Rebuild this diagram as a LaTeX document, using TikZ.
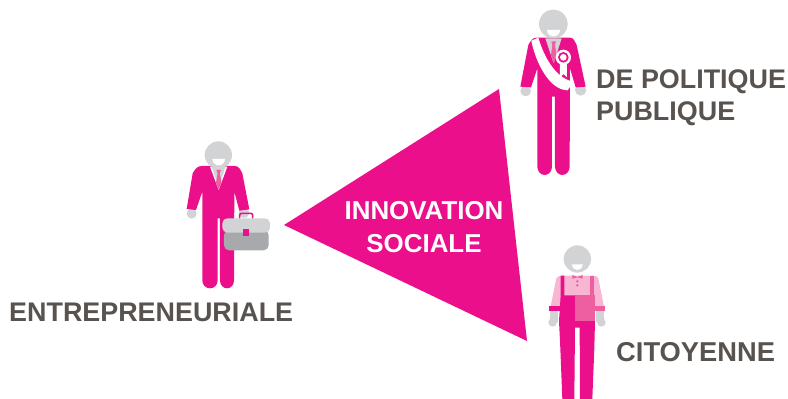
\documentclass[tikz,border=0pt]{standalone}
\usepackage{fontspec}
\setmainfont{Liberation Sans}
\definecolor{mag}{HTML}{EC0F8C}
\definecolor{skin}{HTML}{D1D3D4}
\definecolor{txt}{HTML}{58534F}
\definecolor{lpink}{HTML}{F9B6D3}
\definecolor{mpink}{HTML}{EE5FA2}
\definecolor{dgrey}{HTML}{A7A9AC}
\tikzset{
  lab/.style={text=txt,font=\bfseries\fontsize{26.9}{32}\selectfont,inner sep=0pt,align=left},
  body/.style={fill=mag,draw=none},
  skinpart/.style={fill=skin,draw=none}
}
\begin{document}
\begin{tikzpicture}[x=1pt,y=-1pt]
\useasboundingbox (0,0) rectangle (788,399);
% triangle
\fill[mag] (284,225) -- (499,89) -- (527,341) -- cycle;
\node[text=white,font=\bfseries\fontsize{25.9}{33}\selectfont,align=center,inner sep=0pt] (centre) at (424,227.5) {INNOVATION\\SOCIALE};
% labels
\node[lab,anchor=west] (ent) at (9,312) {ENTREPRENEURIALE};
\node[lab,anchor=west] (pol) at (596,98) {DE POLITIQUE\\PUBLIQUE};
\node[lab,anchor=west,font=\bfseries\fontsize{27.3}{32}\selectfont] (cit) at (616,352) {CITOYENNE};
% entrepreneur
\begin{scope}[shift={(170,130)},x=0.3333pt,y=-0.3333pt]
\fill[skinpart] (65,251) circle (15);
\fill[skinpart] (222,248) circle (16);
\fill[body] (95,108) -- (195,108) to[out=0,in=120] (217,130) -- (238,238) -- (208,242) -- (193,185) -- (192,452)
  arc[start angle=0,end angle=180,x radius=21,y radius=23] -- (150,265) -- (143,265) -- (143,452)
  arc[start angle=0,end angle=180,x radius=23,y radius=23] -- (97,185) -- (78,240) -- (50,237) -- (68,130) to[out=60,in=180] (95,108) -- cycle;
\fill[white] (120,110) -- (172,110) -- (146,180) -- cycle;
\fill[skinpart] (125,110) -- (167,110) -- (146,170) -- cycle;
\fill[mpink] (139,120) -- (153,120) -- (149,130) -- (155,158) -- (146,178) -- (138,158) -- (143,130) -- cycle;
\fill[skinpart] (145,75) circle (41);
\fill[white] (127,87) -- (165,87) arc[start angle=0,end angle=180,radius=19] -- cycle;
\draw[mag,line width=1.6pt,rounded corners=2pt] (209,266) -- (209,250) -- (248,250) -- (248,266);
\fill[dgrey,rounded corners=5pt] (162,300) rectangle (296,361);
\fill[skin,rounded corners=5pt] (157,265) rectangle (300,308);
\fill[mag] (219,298) rectangle (238,318);
\end{scope}
% politician
\begin{scope}[shift={(505,0)},x=0.3333pt,y=-0.3333pt]
\fill[skinpart] (62,273) circle (16);
\fill[skinpart] (227,270) circle (17);
\fill[body] (95,113) -- (195,113) to[out=0,in=120] (215,135) -- (242,260) -- (212,262) -- (195,205) -- (194,500)
  arc[start angle=0,end angle=180,x radius=22,y radius=25] -- (150,290) -- (141,290) -- (141,500)
  arc[start angle=0,end angle=180,x radius=22,y radius=25] -- (97,205) -- (78,262) -- (46,260) -- (70,135) to[out=60,in=180] (95,113) -- cycle;
\fill[skinpart] (121,115) -- (170,115) -- (146,190) -- cycle;
\fill[mpink] (139,124) -- (153,124) -- (150,135) -- (155,165) -- (146,190) -- (138,165) -- (142,135) -- cycle;
\fill[white] (79,122) -- (100,113) .. controls (115,165) and (150,235) .. (205,245) -- (188,271) .. controls (130,270) and (90,180) .. (79,122) -- cycle;
\fill[white] (165,190) -- (186,190) -- (186,232) -- (176,222) -- (165,232) -- cycle;
\fill[white] (175,172) circle (23);
\fill[mag] (175,172) circle (16);
\fill[white] (175,172) circle (10);
\fill[skinpart] (145,72) circle (43);
\fill[white] (126,90) -- (165,90) arc[start angle=0,end angle=180,radius=19.5] -- cycle;
\end{scope}
% citizen
\begin{scope}[shift={(535,235)},x=0.3333pt,y=-0.3333pt]
\fill[skinpart] (53,262) circle (13);
\fill[skinpart] (199,262) circle (13);
\fill[skinpart] (45,225) rectangle (70,262);
\fill[skinpart] (182,225) rectangle (207,262);
\fill[lpink] (80,122) -- (176,122) to[out=0,in=120] (190,130) -- (207,214) -- (176,214) -- (176,258) -- (76,258) -- (76,214) -- (47,214) -- (64,130) to[out=60,in=180] (80,122) -- cycle;
\fill[mag] (42,213) rectangle (77,229);
\fill[mpink] (176,213) rectangle (210,229);
\fill[mag] (77,122) -- (88,122) -- (88,181) -- (120,181) -- (120,258) -- (180,258) -- (178,340) -- (172,492) -- (135,492) -- (134,278) -- (120,278) -- (118,492) -- (82,492) -- (76,340) -- (72,258) -- (77,181) -- cycle;
\fill[mpink] (120,181) rectangle (180,258);
\fill[mpink] (165,122) rectangle (176,181);
\fill[mpink] (127,126) -- (112,120) -- (112,131) -- (127,127) -- (143,131) -- (143,120) -- cycle;
\fill[mpink] (127,139) circle (4);
\fill[mpink] (127,151) circle (4);
\fill[skinpart] (127,72) circle (41);
\fill[white] (110,88) -- (144,88) arc[start angle=0,end angle=180,radius=17] -- cycle;
\end{scope}
\end{tikzpicture}
\end{document}
